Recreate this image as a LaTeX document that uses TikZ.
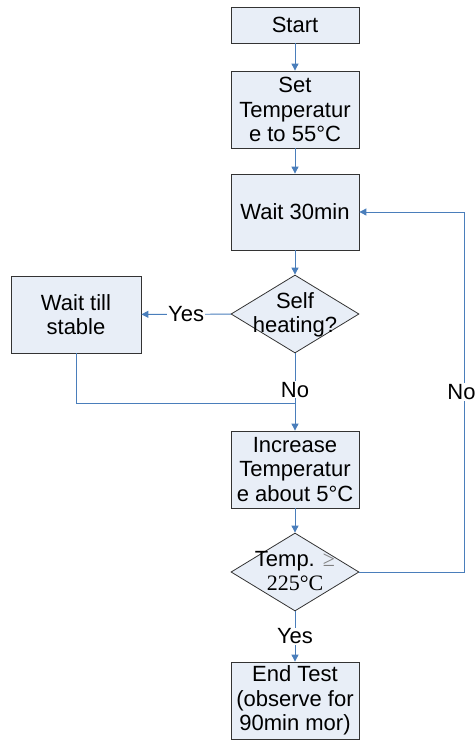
\documentclass[tikz,border=0pt]{standalone}
\usepackage{fontspec}
\setmainfont{Liberation Sans}
\newfontfamily\serifft{Liberation Serif}
\usetikzlibrary{arrows.meta,shapes.geometric}
\definecolor{boxfill}{HTML}{E8EEF7}
\definecolor{lineblue}{HTML}{4A7EBB}
\definecolor{boxline}{HTML}{333333}
\begin{document}
\begin{tikzpicture}[x=1pt,y=-1pt,
  every node/.style={font=\fontsize{22}{24.5}\selectfont},
  procbox/.style={draw=boxline,fill=boxfill,line width=0.8pt,minimum width=128pt,inner sep=0pt,align=center},
  decbox/.style={draw=boxline,fill=boxfill,line width=0.8pt,shape=diamond,minimum width=128pt,minimum height=78pt,inner sep=0pt},
  txt/.style={align=center,inner sep=0pt},
  conn/.style={draw=lineblue,line width=0.9pt},
  arr/.style={conn,-{Triangle[length=7pt,width=7pt]}},
  lab/.style={fill=white,inner sep=1pt}]
\useasboundingbox (0,0) rectangle (476,740);
\node[procbox,minimum height=36pt] (start) at (295,25) {Start};
\node[procbox,minimum height=77pt] (set) at (295,109.5) {Set\\Temperatur\\e to 55°C};
\node[procbox,minimum height=76pt] (wait) at (295,212) {Wait 30min};
\node[decbox] (self) at (295,314) {};
\node[txt] (selft) at (295,315) {Self\\heating?};
\node[procbox,minimum width=130pt,minimum height=77pt] (stable) at (76,314.5) {Wait till\\stable};
\node[procbox,minimum height=77pt] (inc) at (295,469.5) {Increase\\Temperatur\\e about 5°C};
\node[decbox] (temp) at (295,572) {};
\node[txt] (tempt) at (295,571) {Temp. {\serifft\color{gray}≥}\\{\serifft 225°C}};
\node[procbox,minimum height=77pt] (end) at (295,700.5) {End Test\\(observe for\\90min mor)};
\coordinate (join) at (295,403);
\coordinate (rightc) at (464,572);
\draw[arr] (start) -- (set);
\draw[arr] (set) -- (wait);
\draw[arr] (wait) -- (self);
\draw[arr] (self) -- node[lab] (yes1) {Yes} (stable);
\draw[conn] (stable.south) |- (join);
\draw[arr] (self) -- node[lab,pos=0.47] (no1) {No} (inc);
\draw[arr] (inc) -- (temp);
\draw[arr] (temp) -- node[lab] (yes2) {Yes} (end);
\draw[arr] (temp.east) -- (rightc) -- node[lab,pos=0.5,xshift=-2.5pt] (no2) {No} (rightc |- wait.east) -- (wait.east);
\end{tikzpicture}
\end{document}
